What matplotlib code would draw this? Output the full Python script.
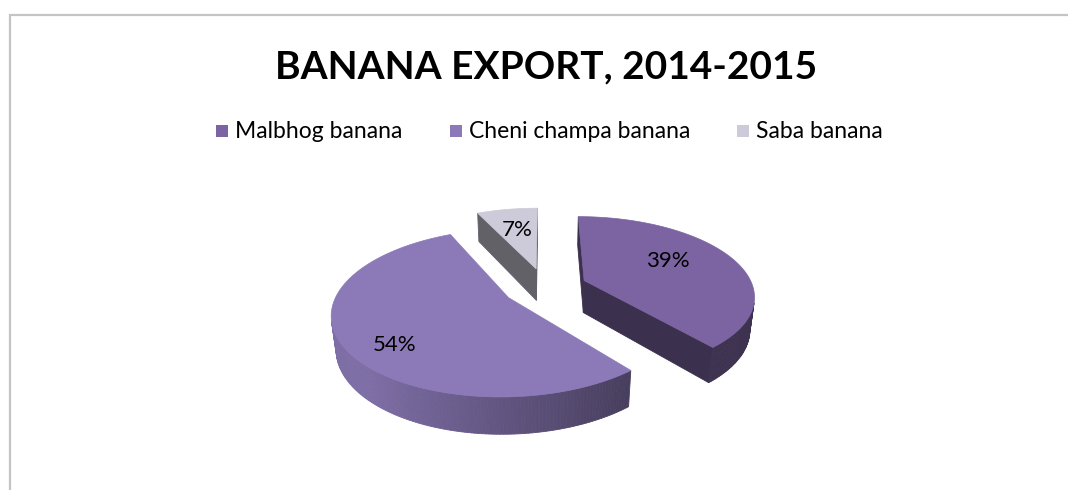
import numpy as np
import matplotlib.pyplot as plt
from matplotlib.patches import Polygon, Rectangle

labels = ['Malbhog banana', 'Cheni champa banana', 'Saba banana']
shares = [39, 54, 7]
colors = ['#7b64a1', '#8c7ab8', '#cdcad9']

plt.rcParams['font.family'] = ['Lato', 'DejaVu Sans']

W, H = 1068, 490
fig = plt.figure(figsize=(W / 100, H / 100), dpi=100)
ax = fig.add_axes([0, 0, 1, 1])
ax.set_xlim(0, W)
ax.set_ylim(H, 0)
ax.axis('off')

# chart frame (only top and left edges show)
ax.plot([9.5, 9.5, W], [H, 15.5, 15.5], color='#c4c4c4', lw=1.6, solid_joinstyle='miter')

ax.text(546, 67, 'BANANA EXPORT, 2014-2015', ha='center', va='center',
        fontsize=28, fontweight='bold', color='black')

# legend
for name, col, xs in zip(labels, colors, [216, 450, 737]):
    ax.add_patch(Rectangle((xs, 125), 12, 12, facecolor=col, edgecolor='none'))
    ax.text(xs + 19, 131, name, ha='left', va='center', fontsize=16.5, color='black')

# 3d pie: unit radius, perspective camera looking down at the pie
thick = 0.22
explode = 0.25
elev = np.radians(29.5)
dist = 5.0
scale = 826
cam = dist * np.array([0.0, -np.cos(elev), np.sin(elev)])
fwd = -cam / np.linalg.norm(cam)
right = np.cross(fwd, [0, 0, 1])
right /= np.linalg.norm(right)
up = np.cross(right, fwd)


def project(pts):
    v = np.atleast_2d(pts) - cam
    d = v @ fwd
    return np.column_stack([v @ right / d, v @ up / d])


x0, y0 = project([0, 0, thick])[0]
cx, cy = 545, 287


def to_px(pts):
    p = project(pts)
    return np.column_stack([cx + scale * (p[:, 0] - x0), cy - scale * (p[:, 1] - y0)])


def rim(off, t, z):
    return off + np.array([np.sin(t), np.cos(t), z])


def shade(col, k):
    rgb = np.array(plt.matplotlib.colors.to_rgb(col))
    return tuple(np.clip(rgb * k, 0, 1))


bounds = np.concatenate([[0], np.cumsum(shares)]) / sum(shares) * 360
slices = []
for i in range(len(shares)):
    a0, a1 = bounds[i], bounds[i + 1]
    mid = np.radians((a0 + a1) / 2)
    off = explode * np.array([np.sin(mid), np.cos(mid), 0.0])
    slices.append((np.linalg.norm(off - cam), i, a0, a1, mid, off))

# where each percentage sits on its slice top: radius, angle shift in degrees
label_r = [0.6, 0.78, 0.62]
label_turn = [-7, -10, 0]

for _, i, a0, a1, mid, off in sorted(slices, reverse=True):
    faces = []
    ts = np.radians(np.linspace(a0, a1, max(2, int(a1 - a0) + 1)))
    for ta, tb in zip(ts[:-1], ts[1:]):
        tm = (ta + tb) / 2
        n = np.array([np.sin(tm), np.cos(tm), 0])
        p = rim(off, tm, thick / 2)
        if n @ (cam - p) <= 0:
            continue
        k = np.clip(0.7 - 0.3 * np.sin(tm), 0.5, 0.9)
        quad = [rim(off, ta, thick), rim(off, tb, thick), rim(off, tb, 0), rim(off, ta, 0)]
        faces.append((np.linalg.norm(p - cam), quad, shade(colors[i], k)))
    # radial walls
    for a, sgn in [(a0, -1), (a1, 1)]:
        t = np.radians(a)
        n = sgn * np.array([np.cos(t), -np.sin(t), 0])
        p = off + 0.5 * np.array([np.sin(t), np.cos(t), thick])
        if n @ (cam - p) <= 0:
            continue
        quad = [off + [0, 0, thick], rim(off, t, thick), rim(off, t, 0), off + [0, 0, 0]]
        faces.append((np.linalg.norm(p - cam), quad, shade(colors[i], 0.48)))
    for _, quad, col in sorted(faces, key=lambda f: -f[0]):
        ax.add_patch(Polygon(to_px(np.array(quad)), closed=True, facecolor=col,
                             edgecolor=col, lw=0.6))
    top = [off + [0, 0, thick]] + [rim(off, t, thick) for t in ts]
    ax.add_patch(Polygon(to_px(np.array(top)), closed=True, facecolor=colors[i],
                         edgecolor=colors[i], lw=0.5))
    la = mid + np.radians(label_turn[i])
    lp = to_px(off + label_r[i] * np.array([np.sin(la), np.cos(la), 0]) + [0, 0, thick])[0]
    ax.text(lp[0], lp[1], f'{shares[i]}%', ha='center', va='center', fontsize=16,
            color='black')

fig.savefig('out.png', dpi=100, facecolor='white')
